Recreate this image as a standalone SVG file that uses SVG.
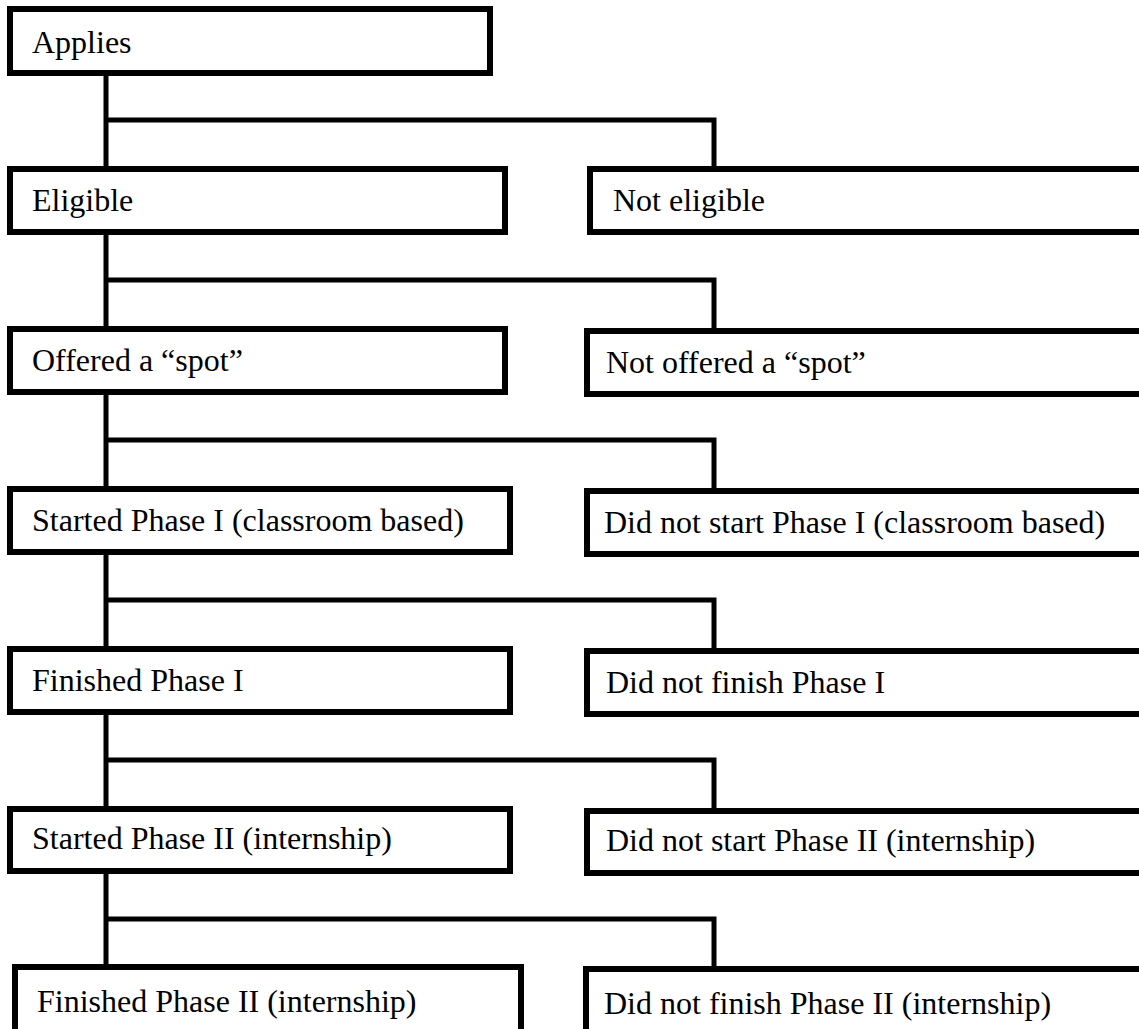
<svg xmlns="http://www.w3.org/2000/svg" width="1139" height="1029" viewBox="0 0 1139 1029">
<style>
.box{fill:#fff;stroke:#000;stroke-width:6}
.lbl{font-family:"Liberation Serif","Times New Roman",serif;font-size:32px;fill:#000}
.con{fill:none;stroke:#000;stroke-width:5}
</style>
<rect width="1139" height="1029" fill="#fff"/>
<g id="connectors">
<path class="con" d="M106 76V166M106 120H714V166"/>
<path class="con" d="M106 235V326M106 280H714V328"/>
<path class="con" d="M106 395V486M106 440H714V488"/>
<path class="con" d="M106 555V646M106 600H714V648"/>
<path class="con" d="M106 715V806M106 760H714V808"/>
<path class="con" d="M106 874V964M106 919H714V966"/>
</g>
<g id="applies"><rect class="box" x="10" y="9" width="480" height="64"/><text class="lbl" x="32" y="53">Applies</text></g>
<g id="eligible"><rect class="box" x="10" y="169" width="495" height="63"/><text class="lbl" x="32" y="211">Eligible</text></g>
<g id="not-eligible"><rect class="box" x="590" y="169" width="560" height="63"/><text class="lbl" x="613" y="211">Not eligible</text></g>
<g id="offered"><rect class="box" x="10" y="329" width="495" height="63"/><text class="lbl" x="32" y="371">Offered a “spot”</text></g>
<g id="not-offered"><rect class="box" x="587" y="331" width="560" height="63"/><text class="lbl" x="606" y="373">Not offered a “spot”</text></g>
<g id="started-1"><rect class="box" x="10" y="489" width="500" height="63"/><text class="lbl" x="32" y="531">Started Phase I (classroom based)</text></g>
<g id="not-started-1"><rect class="box" x="587" y="491" width="560" height="63"/><text class="lbl" x="604" y="533">Did not start Phase I (classroom based)</text></g>
<g id="finished-1"><rect class="box" x="10" y="649" width="500" height="63"/><text class="lbl" x="32" y="691">Finished Phase I</text></g>
<g id="not-finished-1"><rect class="box" x="587" y="651" width="560" height="63"/><text class="lbl" x="606" y="693">Did not finish Phase I</text></g>
<g id="started-2"><rect class="box" x="10" y="809" width="500" height="62"/><text class="lbl" x="32" y="849">Started Phase II (internship)</text></g>
<g id="not-started-2"><rect class="box" x="587" y="811" width="560" height="62"/><text class="lbl" x="606" y="851">Did not start Phase II (internship)</text></g>
<g id="finished-2"><rect class="box" x="15" y="967" width="506" height="70"/><text class="lbl" x="37" y="1012">Finished Phase II (internship)</text></g>
<g id="not-finished-2"><rect class="box" x="586" y="969" width="560" height="70"/><text class="lbl" x="604" y="1014">Did not finish Phase II (internship)</text></g>
</svg>
